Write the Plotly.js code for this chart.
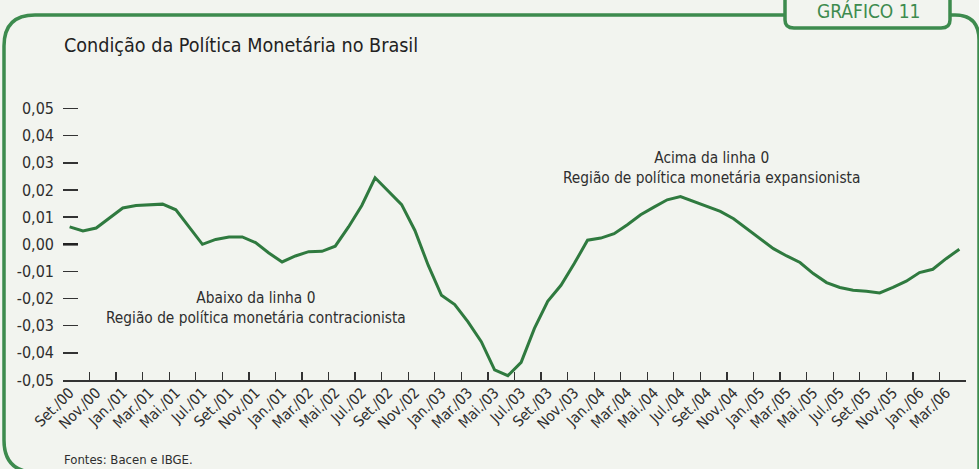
<!DOCTYPE html>
<html>
<head>
<meta charset="utf-8">
<script src="https://cdn.plot.ly/plotly-3.0.1.min.js"></script>
<style>
html,body{margin:0;padding:0;background:#f2f4ef;}
#chart{width:979px;height:469px;}
</style>
</head>
<body>
<div id="chart"></div>
<script>
// Monthly series, Set/00 .. Abr/06 (68 months)
const values = [
  0.0064, 0.0049, 0.0060, 0.0097, 0.0134, 0.0143, 0.0145, 0.0148, 0.0127, 0.0064,
  0.0000, 0.0018, 0.0027, 0.0027, 0.0006, -0.0032, -0.0065, -0.0043, -0.0027, -0.0026,
  -0.0007, 0.0064, 0.0143, 0.0245, 0.0195, 0.0146, 0.0051, -0.0077, -0.0188, -0.0222,
  -0.0286, -0.0359, -0.0463, -0.0484, -0.0435, -0.0310, -0.0210, -0.0151, -0.0071, 0.0015,
  0.0023, 0.0039, 0.0072, 0.0109, 0.0137, 0.0164, 0.0176, 0.0158, 0.0141, 0.0121,
  0.0094, 0.0058, 0.0021, -0.0016, -0.0043, -0.0067, -0.0108, -0.0141, -0.0159, -0.0169,
  -0.0173, -0.0179, -0.0159, -0.0136, -0.0104, -0.0092, -0.0053, -0.0018
];
const monthIndex = values.map((v, i) => i);

const xTickLabels = [
  "Set./00","Nov./00","Jan./01","Mar./01","Mai./01","Jul./01","Set./01","Nov./01",
  "Jan./01","Mar./02","Mai./02","Jul./02","Set./02","Nov./02","Jan./03","Mar./03",
  "Mai./03","Jul./03","Set./03","Nov./03","Jan./04","Mar./04","Mai./04","Jul./04",
  "Set./04","Nov./04","Jan./05","Mar./05","Mai./05","Jul./05","Set./05","Nov./05",
  "Jan./06","Mar./06"
];
const xLabelVals = xTickLabels.map((t, i) => 2 * i);
const xTickMarks = [];
for (let k = 0; k <= 34; k++) xTickMarks.push(-0.5 + 2 * k);

const yTickVals = [-0.05, -0.04, -0.03, -0.02, -0.01, 0.00, 0.01, 0.02, 0.03, 0.04, 0.05];
const yTickText = ["-0,05","-0,04","-0,03","-0,02","-0,01","0,00","0,01","0,02","0,03","0,04","0,05"];

const W = 979, H = 469;
const M = {l: 63, r: 13, t: 100, b: 89};
const PW = W - M.l - M.r, PH = H - M.t - M.b;
const px = x => (x - M.l) / PW;
const py = y => (H - M.b - y) / PH;

const FONT = "'Liberation Sans Narrow', 'DejaVu Sans Condensed', 'Liberation Sans', sans-serif";
const GREEN = "#3d8b4e";
const BG = "#f2f4ef";
const TXT = "#2e2e2e";

const frame = "M " + px(4) + "," + py(440) +
  " Q " + px(4) + "," + py(469) + " " + px(30) + "," + py(472) +
  " M " + px(4) + "," + py(440) +
  " L " + px(4) + "," + py(46) +
  " Q " + px(4) + "," + py(15) + " " + px(35) + "," + py(15) +
  " L " + px(955) + "," + py(15) +
  " Q " + px(979) + "," + py(15) + " " + px(979) + "," + py(40) +
  " L " + px(979) + "," + py(490);
const badge = "M " + px(785) + "," + py(-10) +
  " L " + px(785) + "," + py(20) +
  " Q " + px(785) + "," + py(28) + " " + px(794) + "," + py(28) +
  " L " + px(941) + "," + py(28) +
  " Q " + px(950) + "," + py(28) + " " + px(950) + "," + py(20) +
  " L " + px(950) + "," + py(-10) + " Z";

const trace = {
  x: monthIndex, y: values, type: "scatter", mode: "lines",
  line: {color: "#2f7a3f", width: 3}, hoverinfo: "skip", xaxis: "x", yaxis: "y"
};
const labelTrace = {
  x: [0, 67], y: [null, null], type: "scatter", mode: "lines",
  xaxis: "x2", yaxis: "y", showlegend: false, hoverinfo: "skip"
};

const layout = {
  width: W, height: H,
  margin: M,
  paper_bgcolor: BG, plot_bgcolor: BG,
  showlegend: false,
  font: {family: FONT, color: TXT, size: 14},
  xaxis: {
    range: [-0.5, 67.5], showgrid: false, zeroline: false,
    showline: true, linecolor: "#333", linewidth: 1.5,
    tickmode: "array", tickvals: xTickMarks, ticktext: xTickMarks.map(() => ""),
    ticks: "inside", ticklen: 8, tickwidth: 1.3, tickcolor: "#333",
    fixedrange: true
  },
  xaxis2: {
    overlaying: "x", anchor: "y", side: "bottom",
    range: [-0.5, 67.5], showgrid: false, zeroline: false, showline: false,
    tickmode: "array", tickvals: xLabelVals, ticktext: xTickLabels,
    ticks: "", tickangle: -45, tickfont: {family: FONT, size: 15, color: TXT},
    fixedrange: true
  },
  yaxis: {
    range: [-0.05, -0.05 + PH / 2714], showgrid: false, zeroline: false, showline: false,
    tickmode: "array", tickvals: yTickVals, ticktext: yTickText,
    ticks: "inside", ticklen: 15, tickwidth: 1.5, tickcolor: "#333",
    ticklabelstandoff: 8,
    tickfont: {family: FONT, size: 16, color: TXT}, fixedrange: true
  },
  shapes: [
    {type: "path", xref: "paper", yref: "paper", path: frame, line: {color: GREEN, width: 3.5}, layer: "above"},
    {type: "path", xref: "paper", yref: "paper", path: badge, line: {color: GREEN, width: 3.5}, fillcolor: BG, layer: "above"},
    {type: "line", xref: "paper", yref: "y", x0: 0, x1: px(78), y0: 0, y1: 0, line: {color: "#222", width: 2.6}}
  ],
  annotations: [
    {xref: "paper", yref: "paper", x: px(62), y: py(45), xanchor: "left", yanchor: "middle",
     text: "Condição da Política Monetária no Brasil", showarrow: false,
     font: {family: FONT, size: 19.6, color: "#222"}},
    {xref: "paper", yref: "paper", x: px(868), y: py(11), xanchor: "center", yanchor: "middle",
     text: "GRÁFICO 11", showarrow: false, font: {family: FONT, size: 19, color: GREEN}},
    {xref: "x", yref: "y", x: 14, y: -0.0236, xanchor: "center", yanchor: "middle",
     text: "Abaixo da linha 0<br>Região de política monetária contracionista", showarrow: false,
     font: {family: FONT, size: 15.3, color: TXT}},
    {xref: "x", yref: "y", x: 48.3, y: 0.028, xanchor: "center", yanchor: "middle",
     text: "Acima da linha 0<br>Região de política monetária expansionista", showarrow: false,
     font: {family: FONT, size: 15.3, color: TXT}},
    {xref: "paper", yref: "paper", x: px(62), y: py(460), xanchor: "left", yanchor: "middle",
     text: "Fontes: Bacen e IBGE.", showarrow: false,
     font: {family: FONT, size: 13, color: TXT}}
  ]
};

Plotly.newPlot("chart", [trace, labelTrace], layout, {staticPlot: true, displayModeBar: false});
</script>
</body>
</html>
